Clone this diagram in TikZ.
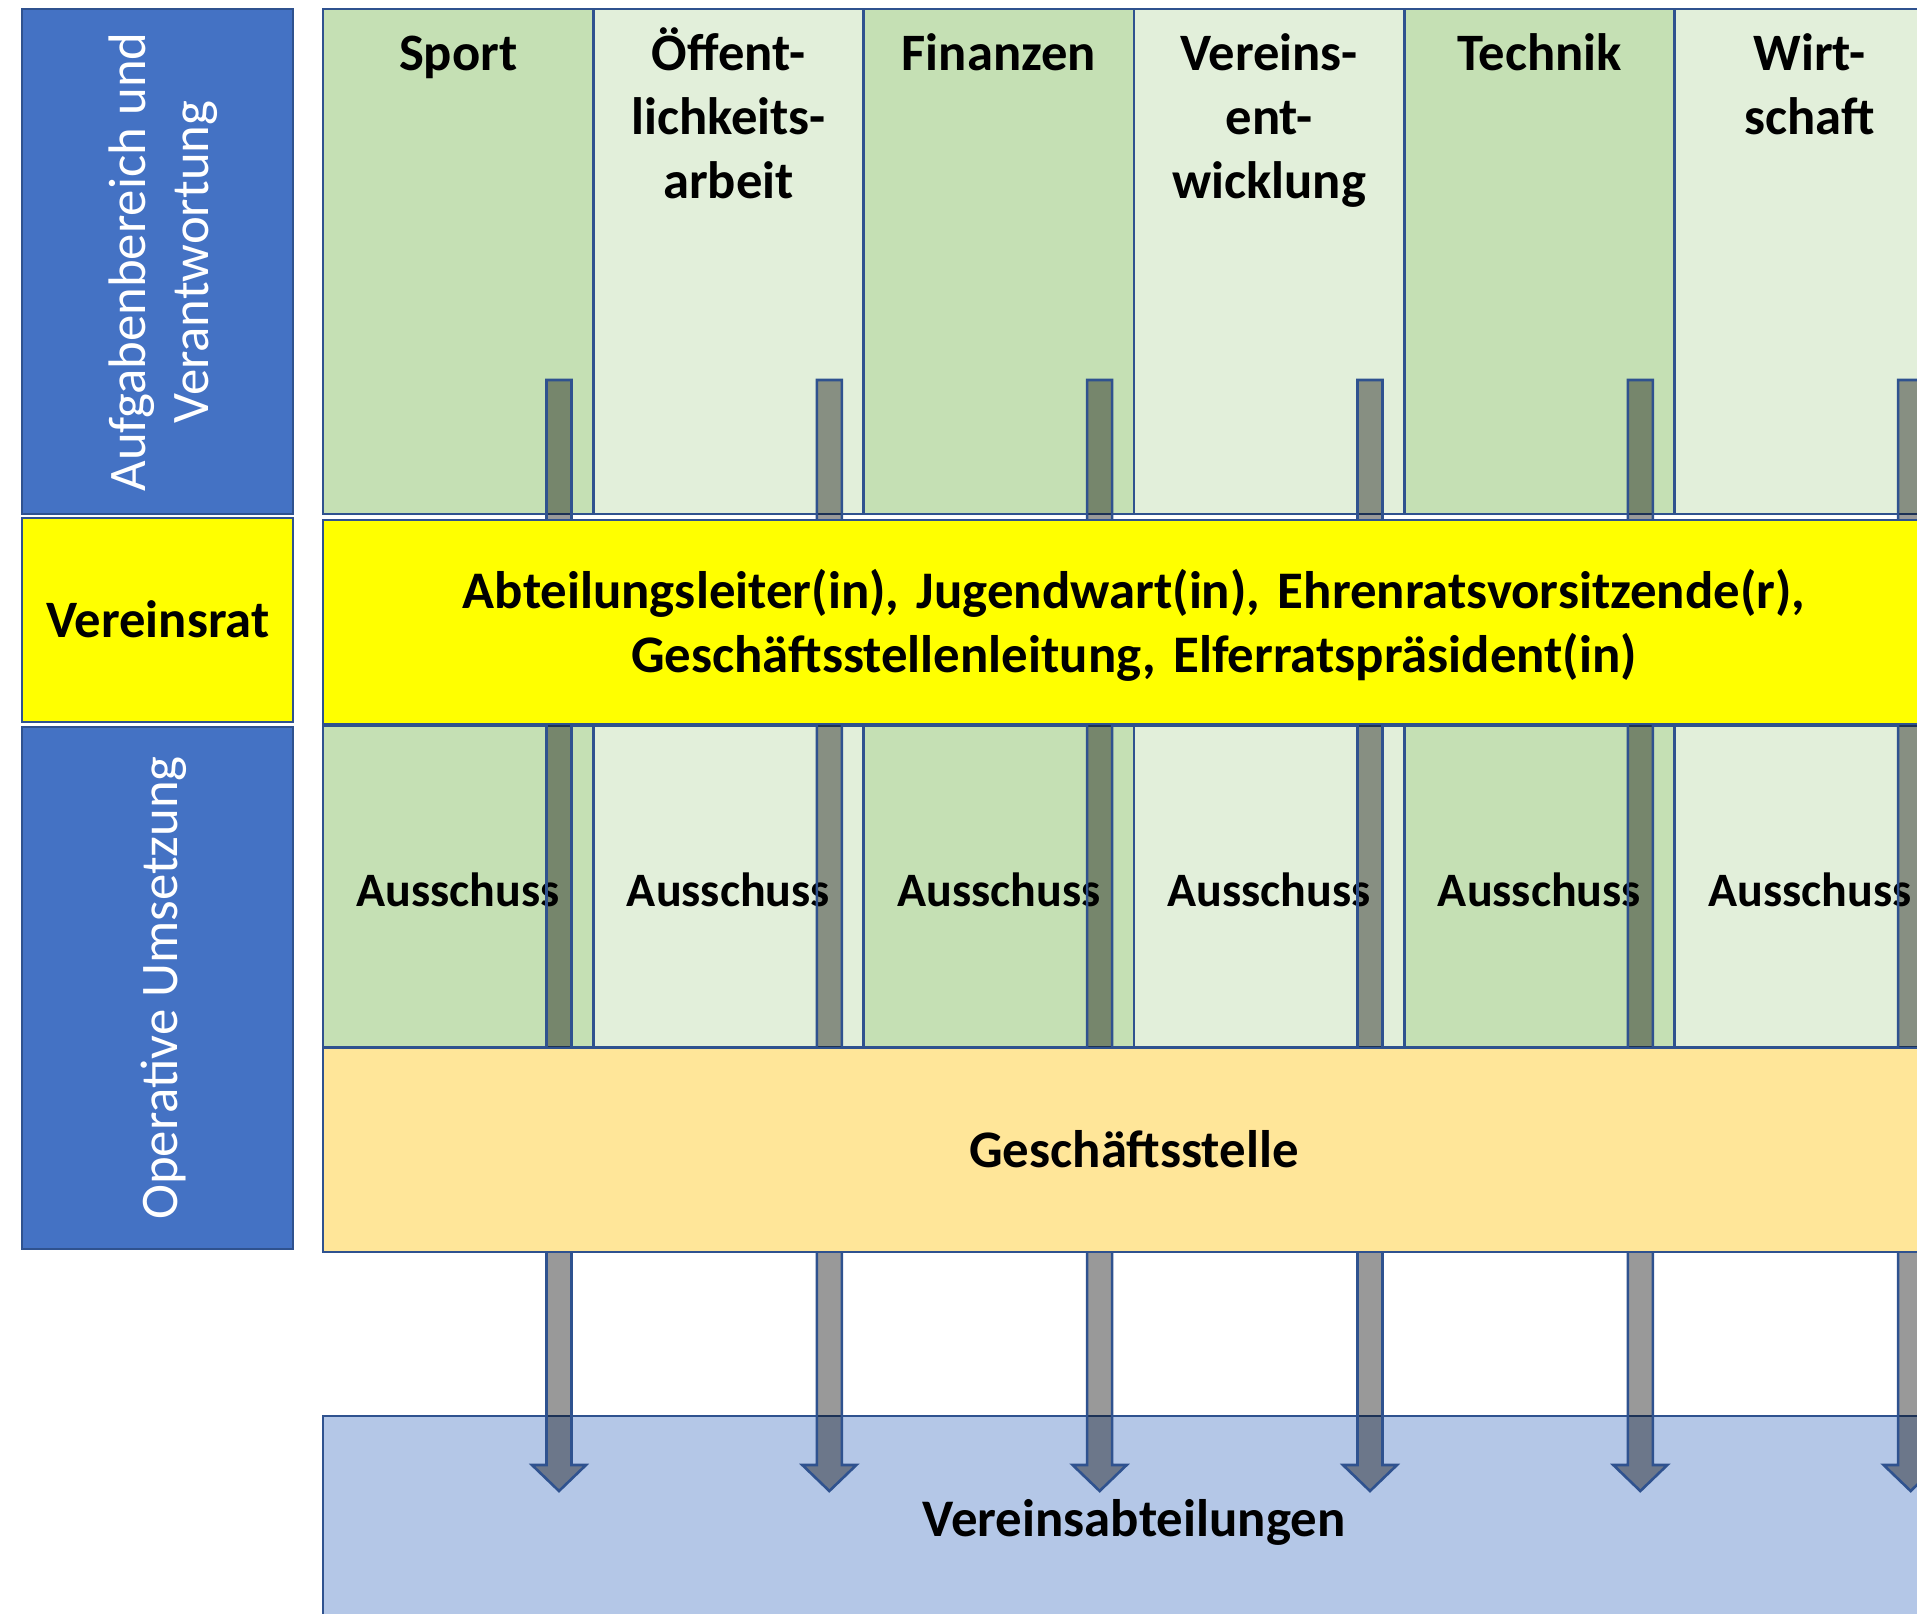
\documentclass[tikz,border=0pt]{standalone}
\usepackage{fontspec}
\setmainfont{Carlito}
\usetikzlibrary{calc}
\definecolor{sideblue}{HTML}{4472C4}
\definecolor{edgeblue}{HTML}{2F528F}
\definecolor{greenA}{HTML}{C5E0B4}
\definecolor{greenB}{HTML}{E2EFDA}
\definecolor{ratyellow}{HTML}{FFFF00}
\definecolor{officeyellow}{HTML}{FFE699}
\definecolor{deptblue}{HTML}{B4C7E7}
\begin{document}
\begin{tikzpicture}[x=0.5pt,y=-0.5pt,
  cell/.style={draw=edgeblue,line width=1.3pt},
  hdr/.style={font=\bfseries\fontsize{26.3}{32}\selectfont,text width=130pt,align=center,anchor=base,inner sep=0pt},
  wide/.style={font=\bfseries\fontsize{26.4}{32}\selectfont,text width=800pt,align=center,anchor=base,inner sep=0pt},
  comm/.style={font=\bfseries\fontsize{24}{29}\selectfont,anchor=base,inner sep=0pt},
  sidetext/.style={font=\fontsize{26.4}{32}\selectfont,text=white,rotate=90,anchor=base,inner sep=0pt},
  flow/.style={draw=edgeblue,line width=1.3pt,fill=black,fill opacity=0.4}
]
\path[use as bounding box] (0,0) rectangle (1917,1613);
\clip (0,0) rectangle (1917,1613);

% left side boxes
\draw[cell,fill=sideblue] (22,9) rectangle (293,514);
\draw[cell,fill=ratyellow] (22,518) rectangle (293,722);
\draw[cell,fill=sideblue] (22,727) rectangle (293,1249);

% columns and committee cells
\foreach \i/\c in {0/greenA,1/greenB,2/greenA,3/greenB,4/greenA,5/greenB}{
  \draw[cell,fill=\c] ({323+270.33*\i},9) rectangle ({323+270.33*(\i+1)},514);
  \draw[cell,fill=\c] ({323+270.33*\i},726) rectangle ({323+270.33*(\i+1)},1047);
}

% committee labels
\foreach \i in {0,...,5}{
  \node[comm] (aus\i) at ({323+270.33*(\i+0.5)},906) {Ausschuss};
}

% departments box
\draw[cell,fill=deptblue] (323,1416) rectangle (1945,1624);

% arrows
\foreach \i in {0,...,5}{
  \coordinate (top\i) at ({559+270.33*\i},380);
  \coordinate (tip\i) at ({559+270.33*\i},1491);
  \draw[flow] ($(top\i)+(-12.5,0)$) -- ($(top\i)+(12.5,0)$) -- ($(tip\i)+(12.5,-26)$)
    -- ($(tip\i)+(27,-26)$) -- (tip\i) -- ($(tip\i)+(-27,-26)$) -- ($(tip\i)+(-12.5,-26)$) -- cycle;
}

% bands on top of arrows
\draw[cell,fill=ratyellow] (323,520) rectangle (1945,724);
\draw[cell,fill=officeyellow] (323,1048) rectangle (1945,1252);

% header texts
\node[hdr] (sport) at (458.2,70) {Sport};
\node[hdr] (oeff) at (728.5,70) {Öffent-\\lichkeits-\\arbeit};
\node[hdr] (fin) at (998.8,70) {Finanzen};
\node[hdr] (ver) at (1269.2,70) {Vereins-\\ent-\\wicklung};
\node[hdr] (tech) at (1539.5,70) {Technik};
\node[hdr] (wirt) at (1809.8,70) {Wirt-\\schaft};

% side labels
\node[sidetext] (aufg1) at (145,262) {Aufgabenbereich und};
\node[sidetext] (aufg2) at (208,262) {Verantwortung};
\node[sidetext] (oper) at (177.5,988) {Operative Umsetzung};
\node[hdr] (rat) at (158,637) {Vereinsrat};

% band texts
\node[wide] (mitglieder) at (1134,608) {Abteilungsleiter(in), Jugendwart(in), Ehrenratsvorsitzende(r),\\Geschäftsstellenleitung, Elferratspräsident(in)};
\node[wide] (gs) at (1134,1167) {Geschäftsstelle};
\node[wide] (va) at (1134,1536) {Vereinsabteilungen};
\end{tikzpicture}
\end{document}
